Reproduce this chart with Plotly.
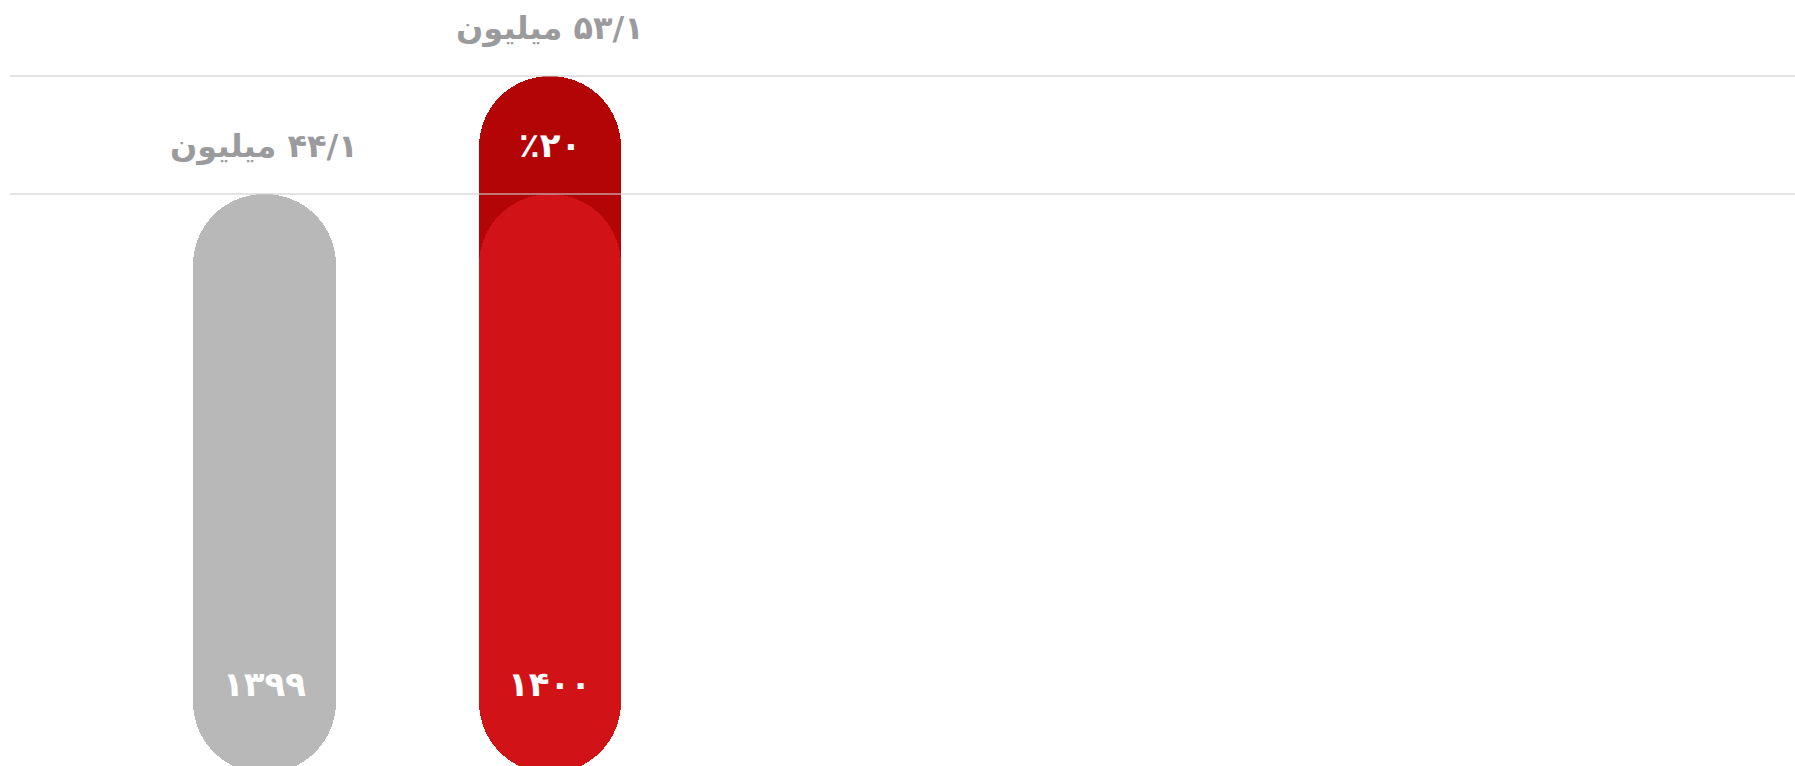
import plotly.graph_objects as go

# ---- data ----
years = ["۱۳۹۹", "۱۴۰۰"]
values = [44.1, 53.1]          # million
prev_overlay = [None, 44.1]    # previous-year value drawn over the 1400 bar
growth_pct = 20
unit = "میلیون"

# ---- style ----
GRAY = "#b8b8b8"
DARK_RED = "#b30505"
RED = "#d11317"
LABEL_GRAY = "#9b9b9e"
FONT = "DejaVu Sans"

FA_DIGITS = str.maketrans("0123456789.", "۰۱۲۳۴۵۶۷۸۹/")


def fa(num):
    return str(num).translate(FA_DIGITS)


fig = go.Figure()


def add_pill(x, v, color):
    # explicit base -> plotly rounds both ends of the bar
    fig.add_bar(x=[x], y=[v], base=[0], width=0.5,
                marker=dict(color=color, cornerradius="50%", line=dict(width=0)),
                hoverinfo="skip", showlegend=False)


add_pill(years[0], values[0], GRAY)
add_pill(years[1], values[1], DARK_RED)
add_pill(years[1], prev_overlay[1], RED)

# gridlines drawn above the bars
for v in values:
    fig.add_shape(type="line", xref="paper", x0=0, x1=1, yref="y", y0=v, y1=v,
                  line=dict(color="rgba(205,205,205,0.75)", width=1.5), layer="above")

# value labels above bars
for yr, v in zip(years, values):
    fig.add_annotation(x=yr, y=v, text="\u202B" + fa(v) + " " + unit + "\u202C",
                       showarrow=False, yanchor="middle", yshift=48,
                       font=dict(family=FONT, size=32, color=LABEL_GRAY, weight="bold"))

# growth percentage inside the dark part
fig.add_annotation(x=years[1], y=(values[1] + prev_overlay[1]) / 2,
                   text="٪" + fa(growth_pct), showarrow=False, yanchor="middle",
                   yshift=-10, font=dict(family=FONT, size=34, color="white", weight="bold"))

# year labels inside bars
for yr in years:
    fig.add_annotation(x=yr, y=0, yref="paper", text=yr, showarrow=False,
                       yanchor="middle", yshift=82,
                       font=dict(family=FONT, size=34, color="white", weight="bold"))

fig.update_layout(
    width=1795, height=766,
    margin=dict(l=10, r=0, t=0, b=0),
    paper_bgcolor="white", plot_bgcolor="white",
    barmode="overlay", bargap=0,
    xaxis=dict(type="category", range=[-0.891, 5.36], showgrid=False,
               showticklabels=False, zeroline=False, showline=False, fixedrange=True),
    yaxis=dict(range=[0.4955, 58.89], showgrid=False, showticklabels=False,
               zeroline=False, showline=False, fixedrange=True),
)

fig.write_html("out.html", config={"displayModeBar": False},
               post_script="document.body.style.margin='0';")
